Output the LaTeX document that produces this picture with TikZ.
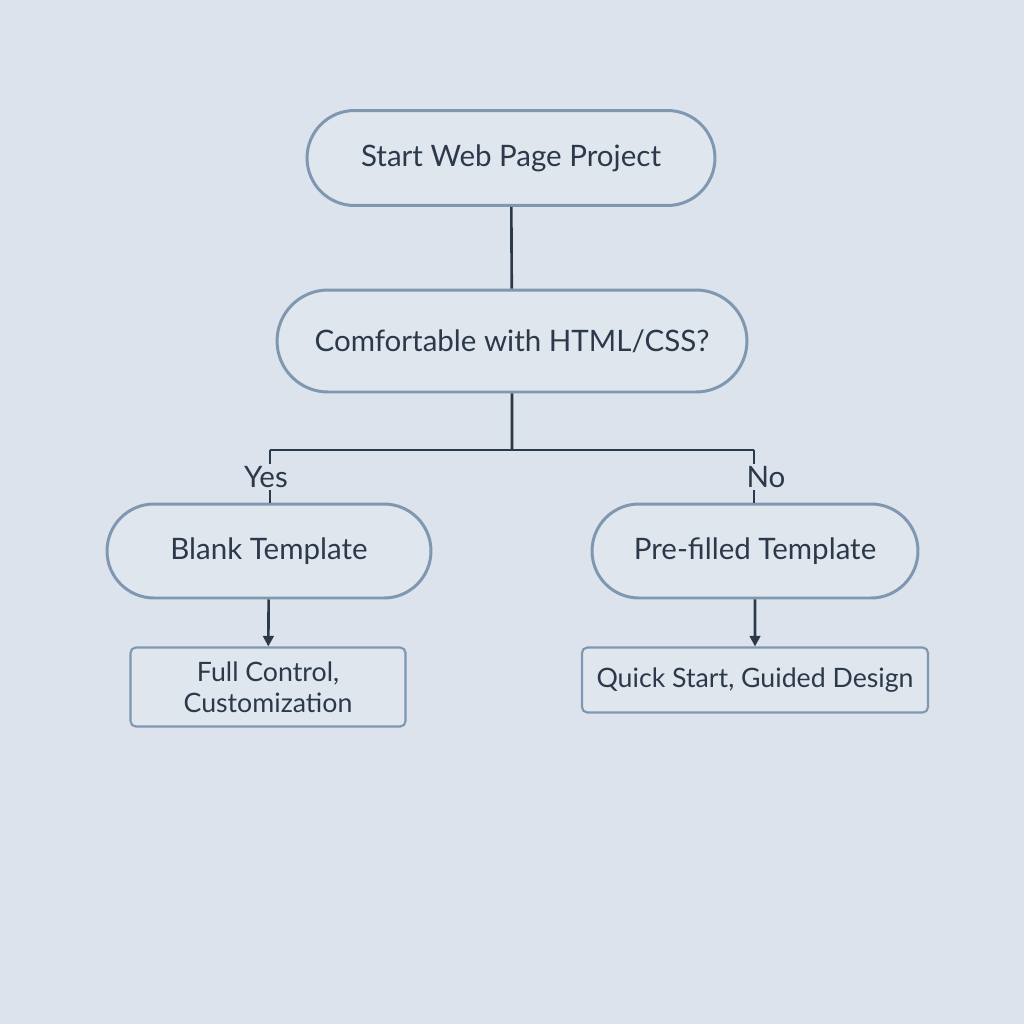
\documentclass[tikz,border=0pt]{standalone}
\usepackage{fontspec}
\setmainfont{Lato}
\usetikzlibrary{positioning,arrows.meta,shapes.misc}

\definecolor{bgcol}{HTML}{DCE3EC}
\definecolor{edgecol}{HTML}{7F97B1}
\definecolor{inkcol}{HTML}{2C394A}
\definecolor{fillcol}{HTML}{DFE6EE}

\tikzset{
  pill/.style={rounded rectangle, draw=edgecol, fill=fillcol, line width=1.7pt,
    text=inkcol, font=\fontsize{16.8}{20}\selectfont, inner sep=0pt},
  note/.style={rectangle, rounded corners=3pt, draw=edgecol, fill=fillcol, line width=1.2pt,
    text=inkcol, font=\fontsize{15.2}{17.8}\selectfont, align=center, inner sep=0pt},
  link/.style={draw=inkcol, line width=1.5pt},
  arrow/.style={link, -{Triangle[length=6pt,width=6pt]}},
  answer/.style={fill=bgcol, text=inkcol, font=\fontsize{16.8}{20}\selectfont, inner sep=1pt}
}

\begin{document}
\begin{tikzpicture}[x=0.02cm,y=-0.02cm]
    \fill [bgcol] (0,0) rectangle (1024,1024);

    % question nodes
    \node [pill, minimum width=8.16cm, minimum height=1.9cm] (start) at (511,158) {Start Web Page Project};
    \node [pill, minimum width=9.4cm, minimum height=2.04cm] (question) at (512,341) {Comfortable with HTML/CSS?};
    \node [pill, minimum width=6.48cm, minimum height=1.88cm] (blank) at (269,551) {Blank Template};
    \node [pill, minimum width=6.52cm, minimum height=1.88cm] (prefilled) at (755,551) {Pre-filled Template};

    % outcomes
    \node [note, minimum width=5.5cm, minimum height=1.58cm] (full) at (268,687) {Full Control,\\Customization};
    \node [note, minimum width=6.92cm, minimum height=1.3cm] (quick) at (755,680) {Quick Start, Guided Design};

    % branch
    \coordinate (split) at (512,450);
    \coordinate (yesend) at (270,450);
    \coordinate (noend) at (754,450);
    \node [answer] (yes) at (266,477) {Yes};
    \node [answer] (no) at (766,477) {No};

    \draw [link] (start) -- (question);
    \draw [link] (question) -- (split);
    \draw [link] (yesend) -- (noend);
    \draw [link] (yesend) -- (yesend |- yes.north);
    \draw [link] (yesend |- yes.south) -- (yesend |- blank.north);
    \draw [link] (noend) -- (noend |- no.north);
    \draw [link] (noend |- no.south) -- (noend |- prefilled.north);

    \draw [arrow] (blank) -- (full);
    \draw [arrow] (prefilled) -- (quick);
\end{tikzpicture}
\end{document}
